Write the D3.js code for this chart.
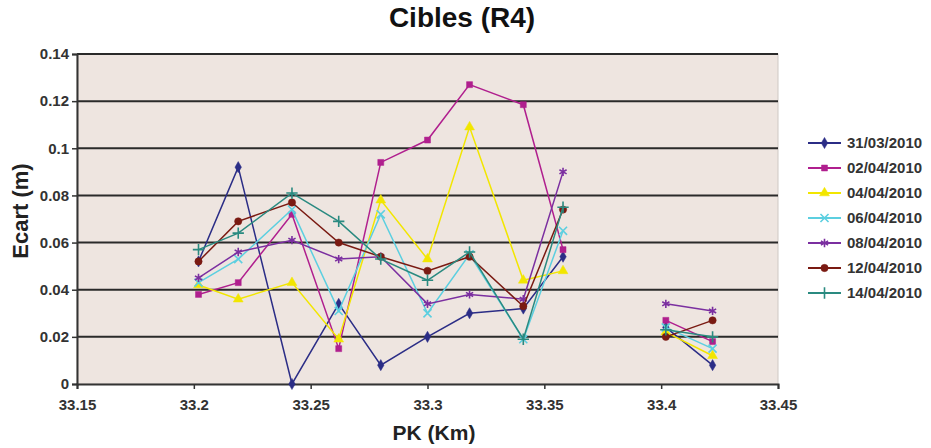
<!DOCTYPE html>
<html lang="fr">
<head>
    <meta charset="UTF-8">
    <title>Cibles (R4)</title>
    <script src="https://d3js.org/d3.v7.min.js"></script>
    <style>
        body { margin: 0; background: #fff; }
        text { font-family: "Liberation Sans", Arial, sans-serif; }
    </style>
</head>
<body>
    <svg id="chart" width="931" height="448"></svg>

    <script>
        // PK positions (null row = break between the two groups)
        const pk = [33.202, 33.219, 33.242, 33.262, 33.280, 33.300, 33.318, 33.341, 33.358, 33.380, 33.402, 33.422];

        const dates = ["31/03/2010", "02/04/2010", "04/04/2010", "06/04/2010", "08/04/2010", "12/04/2010", "14/04/2010"];

        const s3103 = [0.052, 0.092, 0.000, 0.034, 0.008, 0.020, 0.030, 0.032, 0.054, null, 0.024, 0.008];
        const s0204 = [0.038, 0.043, 0.072, 0.015, 0.094, 0.1035, 0.127, 0.1185, 0.057, null, 0.027, 0.018];
        const s0404 = [0.042, 0.036, 0.043, 0.019, 0.078, 0.053, 0.109, 0.044, 0.048, null, 0.022, 0.012];
        const s0604 = [0.043, 0.053, 0.074, 0.031, 0.072, 0.030, 0.055, 0.019, 0.065, null, 0.024, 0.015];
        const s0804 = [0.045, 0.056, 0.061, 0.053, 0.054, 0.034, 0.038, 0.036, 0.090, null, 0.034, 0.031];
        const s1204 = [0.052, 0.069, 0.077, 0.060, 0.054, 0.048, 0.054, 0.033, 0.074, null, 0.020, 0.027];
        const s1404 = [0.057, 0.064, 0.081, 0.069, 0.053, 0.044, 0.056, 0.019, 0.075, null, 0.023, 0.020];

        const xTicks = [33.15, 33.2, 33.25, 33.3, 33.35, 33.4, 33.45];
        const yTicks = [0, 0.02, 0.04, 0.06, 0.08, 0.1, 0.12, 0.14];

        const series = [
            { name: dates[0], values: s3103, color: "#2b2d86", marker: "diamond" },
            { name: dates[1], values: s0204, color: "#b01f8e", marker: "square" },
            { name: dates[2], values: s0404, color: "#f2e600", marker: "triangle" },
            { name: dates[3], values: s0604, color: "#5ccfe0", marker: "x" },
            { name: dates[4], values: s0804, color: "#7b2fa0", marker: "star" },
            { name: dates[5], values: s1204, color: "#7a1a12", marker: "circle" },
            { name: dates[6], values: s1404, color: "#2a8a80", marker: "plus" }
        ];

        const svg = d3.select("#chart");
        const margin = { left: 77, right: 153, top: 54, bottom: 64 };
        const width = 931, height = 448;

        const x = d3.scaleLinear().domain([33.15, 33.45]).range([margin.left, width - margin.right]);
        const y = d3.scaleLinear().domain([0, 0.14]).range([height - margin.bottom, margin.top]);

        // plot background
        svg.append("rect")
            .attr("x", x(33.15)).attr("y", y(0.14))
            .attr("width", x(33.45) - x(33.15))
            .attr("height", y(0) - y(0.14))
            .attr("fill", "#eee5e0")
            .attr("stroke", "#cfc8c4");

        // gridlines
        svg.append("g")
            .selectAll("line")
            .data(yTicks.filter(d => d > 0))
            .join("line")
            .attr("x1", x(33.15)).attr("x2", x(33.45))
            .attr("y1", d => y(d)).attr("y2", d => y(d))
            .attr("stroke", "#2a2a2a")
            .attr("stroke-width", 2);

        // axes
        const yAxis = svg.append("g")
            .attr("transform", `translate(${x(33.15)},0)`)
            .call(d3.axisLeft(y).tickValues(yTicks).tickSize(5).tickFormat(d => +d.toFixed(2)));
        const xAxis = svg.append("g")
            .attr("transform", `translate(0,${y(0)})`)
            .call(d3.axisBottom(x).tickValues(xTicks).tickSize(5).tickFormat(d => +d.toFixed(2)));

        [xAxis, yAxis].forEach(a => {
            a.select(".domain").attr("stroke", "#333").attr("stroke-width", 2);
            a.selectAll(".tick line").attr("stroke", "#333").attr("stroke-width", 1.5);
            a.selectAll(".tick text")
                .attr("font-size", 15)
                .attr("font-weight", "bold")
                .attr("fill", "#333")
                .style("font-family", "'Liberation Sans Narrow', 'Liberation Sans', Arial, sans-serif");
        });
        xAxis.selectAll(".tick text").attr("dy", "1.2em");

        // lines
        const line = d3.line()
            .defined(d => d.v !== null)
            .x(d => x(d.pk))
            .y(d => y(d.v));

        const symbolOf = {
            diamond: d3.symbol().type(d3.symbolDiamond).size(36),
            square: d3.symbol().type(d3.symbolSquare).size(36),
            triangle: d3.symbol().type(d3.symbolTriangle).size(42),
            x: d3.symbol().type(d3.symbolTimes).size(44),
            star: d3.symbol().type(d3.symbolAsterisk).size(48),
            circle: d3.symbol().type(d3.symbolCircle).size(42),
            plus: d3.symbol().type(d3.symbolPlus).size(44)
        };
        const strokeMarker = m => m === "x" || m === "star" || m === "plus";

        const drawMarker = (g, s) => {
            g.append("path")
                .attr("d", symbolOf[s.marker]())
                .attr("fill", strokeMarker(s.marker) ? "none" : s.color)
                .attr("stroke", s.color)
                .attr("stroke-width", strokeMarker(s.marker) ? 1.6 : 0.5);
        };

        series.forEach(s => {
            const pts = pk.map((p, i) => ({ pk: p, v: s.values[i] }));
            svg.append("path")
                .datum(pts)
                .attr("fill", "none")
                .attr("stroke", s.color)
                .attr("stroke-width", 1.5)
                .attr("d", line);
            pts.filter(d => d.v !== null).forEach(d => {
                const g = svg.append("g").attr("transform", `translate(${x(d.pk)},${y(d.v)})`);
                drawMarker(g, s);
            });
        });

        // title
        svg.append("text")
            .attr("x", 462).attr("y", 27)
            .attr("text-anchor", "middle")
            .attr("font-size", 28)
            .attr("font-weight", "bold")
            .attr("fill", "#111")
            .text("Cibles (R4)");

        // axis titles
        svg.append("text")
            .attr("x", 434).attr("y", 440)
            .attr("text-anchor", "middle")
            .attr("font-size", 21)
            .attr("font-weight", "bold")
            .attr("fill", "#222")
            .text("PK (Km)");
        svg.append("text")
            .attr("transform", "translate(28,211) rotate(-90)")
            .attr("text-anchor", "middle")
            .attr("font-size", 22)
            .attr("font-weight", "bold")
            .attr("fill", "#222")
            .text("Ecart (m)");

        // legend
        const legend = svg.append("g").attr("transform", "translate(808,143)");
        series.forEach((s, i) => {
            const g = legend.append("g").attr("transform", `translate(0,${i * 25})`);
            g.append("line")
                .attr("x1", 0).attr("x2", 33)
                .attr("stroke", s.color).attr("stroke-width", 2);
            const m = g.append("g").attr("transform", "translate(16.5,0)");
            drawMarker(m, s);
            g.append("text")
                .attr("x", 39).attr("y", 0).attr("dy", "0.35em")
                .attr("font-size", 15)
                .attr("font-weight", "bold")
                .attr("fill", "#333")
                .text(s.name);
        });
    </script>
</body>
</html>
